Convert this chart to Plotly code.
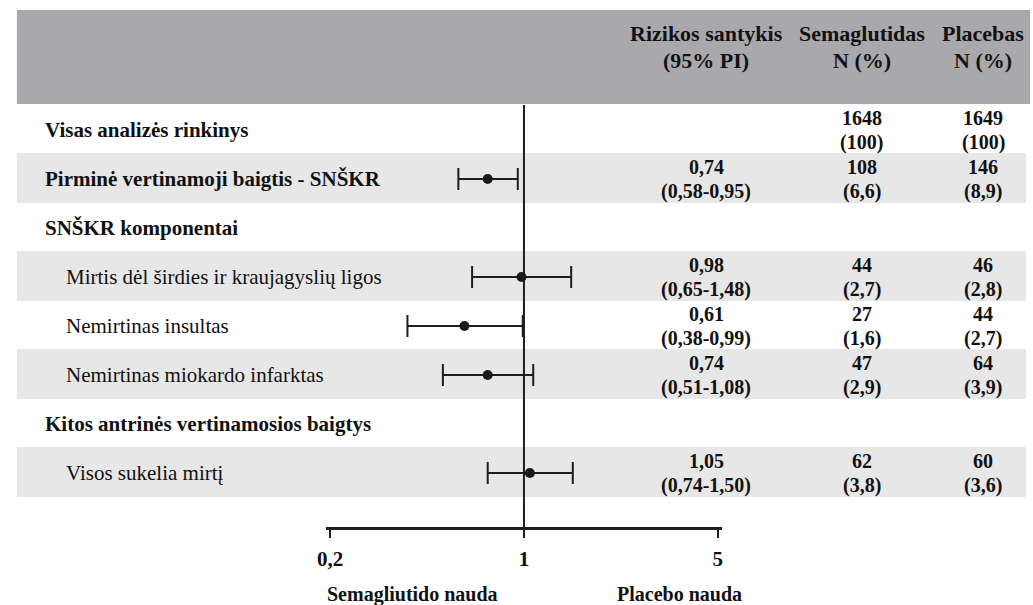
import plotly.graph_objects as go

# ---- data ----
row_labels = [
    "Visas analizės rinkinys",
    "Pirminė vertinamoji baigtis - SNŠKR",
    "SNŠKR komponentai",
    "Mirtis dėl širdies ir kraujagyslių ligos",
    "Nemirtinas insultas",
    "Nemirtinas miokardo infarktas",
    "Kitos antrinės vertinamosios baigtys",
    "Visos sukelia mirtį",
]
row_is_heading = [True, True, True, False, False, False, True, False]

hazard_ratio = [None, 0.74, None, 0.98, 0.61, 0.74, None, 1.05]
ci_low = [None, 0.58, None, 0.65, 0.38, 0.51, None, 0.74]
ci_high = [None, 0.95, None, 1.48, 0.99, 1.08, None, 1.50]

sema_n = [1648, 108, None, 44, 27, 47, None, 62]
sema_pct = [100, 6.6, None, 2.7, 1.6, 2.9, None, 3.8]
placebo_n = [1649, 146, None, 46, 44, 64, None, 60]
placebo_pct = [100, 8.9, None, 2.8, 2.7, 3.9, None, 3.6]

tick_values = [0.2, 1, 5]
tick_labels = ["0,2", "1", "5"]

# ---- page geometry (pixels) ----
W, H = 1033, 605
SERIF = "'Liberation Serif', 'Times New Roman', Times, serif"
row_top_px = 130      # centre of first row
row_step_px = 49      # distance between rows
plot_top_px, plot_bottom_px = 105, 527
plot_left_px, plot_right_px = 320, 720
px_per_decade = 280


def fmt_num(v):
    """Number with a decimal comma; whole numbers without decimals."""
    if float(v).is_integer():
        return str(int(v))
    return str(v).replace(".", ",")


def fmt2(v):
    return f"{v:.2f}".replace(".", ",")


def px_to_row(py):
    return (py - row_top_px) / row_step_px


def px_x(px):
    return px / W


n_rows = len(row_labels)
rows = list(range(n_rows))

fig = go.Figure()

# reference line at HR = 1
fig.add_trace(go.Scatter(
    x=[1, 1], y=[px_to_row(plot_top_px), px_to_row(plot_bottom_px)],
    mode="lines", line=dict(color="#1e1e1e", width=2),
    hoverinfo="skip", showlegend=False, cliponaxis=False,
))

# point estimates with confidence intervals
est_rows = [i for i in rows if hazard_ratio[i] is not None]
fig.add_trace(go.Scatter(
    x=[hazard_ratio[i] for i in est_rows],
    y=est_rows,
    mode="markers",
    marker=dict(color="#1a1a1a", size=10),
    error_x=dict(
        type="data", symmetric=False,
        array=[ci_high[i] - hazard_ratio[i] for i in est_rows],
        arrayminus=[hazard_ratio[i] - ci_low[i] for i in est_rows],
        color="#1e1e1e", thickness=2, width=11,
    ),
    showlegend=False, hoverinfo="skip",
))

shapes = []
# header band
shapes.append(dict(
    type="rect", xref="paper", yref="paper",
    x0=px_x(8), x1=px_x(1031), y0=1 - 104 / H, y1=1 - 10 / H,
    fillcolor="#a9a8ad", line=dict(width=0), layer="below",
))
# alternating row bands
for i in rows:
    if i % 2 == 1:
        shapes.append(dict(
            type="rect", xref="paper", yref="y",
            x0=px_x(8), x1=px_x(1027), y0=i - 0.53, y1=i + 0.49,
            fillcolor="#e7e7e7", line=dict(width=0), layer="below",
        ))

annotations = []


def add_text(text, x_px, y, size, bold=True, xanchor="center", yref="y"):
    annotations.append(dict(
        text=text, x=px_x(x_px), y=y, xref="paper", yref=yref,
        xanchor=xanchor, yanchor="middle", showarrow=False, borderpad=0,
        font=dict(family=SERIF, size=size, color="#111111",
                  weight="bold" if bold else "normal"),
    ))


# column headers (two lines each)
col_hr_x, col_sema_x, col_plac_x = 704, 861, 984
for x_px, lines in [
    (col_hr_x, ["Rizikos santykis", "(95% PI)"]),
    (col_sema_x, ["Semaglutidas", "N (%)"]),
    (col_plac_x, ["Placebas", "N (%)"]),
]:
    add_text(lines[0], x_px, 1 - 34 / H, 22, yref="paper")
    add_text(lines[1], x_px, 1 - 60 / H, 22, yref="paper")

# row labels and table values
for i in rows:
    if row_is_heading[i]:
        add_text(row_labels[i], 35, i, 21, bold=True, xanchor="left")
    else:
        add_text(row_labels[i], 57, i, 21, bold=False, xanchor="left")

    top = i - 12 / row_step_px
    bottom = i + 12 / row_step_px
    if hazard_ratio[i] is not None:
        add_text(fmt2(hazard_ratio[i]), col_hr_x, top, 20)
        add_text(f"({fmt2(ci_low[i])}-{fmt2(ci_high[i])})", col_hr_x, bottom, 20)
    if sema_n[i] is not None:
        add_text(str(sema_n[i]), col_sema_x, top, 20)
        add_text(f"({fmt_num(sema_pct[i])})", col_sema_x, bottom, 20)
    if placebo_n[i] is not None:
        add_text(str(placebo_n[i]), col_plac_x, top, 20)
        add_text(f"({fmt_num(placebo_pct[i])})", col_plac_x, bottom, 20)

# favour labels under the axis
add_text("Semagliutido nauda", 407, 1 - 594 / H, 20, yref="paper")
add_text("Placebo nauda", 677, 1 - 594 / H, 20, yref="paper")

half_range = (plot_right_px - plot_left_px) / 2 / px_per_decade

fig.update_layout(
    width=W, height=H,
    margin=dict(l=0, r=0, t=0, b=0),
    paper_bgcolor="white", plot_bgcolor="rgba(0,0,0,0)",
    shapes=shapes, annotations=annotations,
    xaxis=dict(
        type="log",
        domain=[plot_left_px / W, plot_right_px / W],
        range=[-half_range, half_range],
        showgrid=False, zeroline=False,
        showline=True, linecolor="#1e1e1e", linewidth=2.5,
        ticks="outside", ticklen=8, tickwidth=2, tickcolor="#1e1e1e",
        tickvals=tick_values, ticktext=tick_labels, ticklabelstandoff=3,
        tickfont=dict(family=SERIF, size=21, color="#111111", weight="bold"),
        fixedrange=True,
    ),
    yaxis=dict(
        domain=[1 - plot_bottom_px / H, 1 - plot_top_px / H],
        range=[px_to_row(plot_bottom_px), px_to_row(plot_top_px)],
        visible=False, fixedrange=True,
    ),
    showlegend=False,
)

fig.write_html("out.html")
